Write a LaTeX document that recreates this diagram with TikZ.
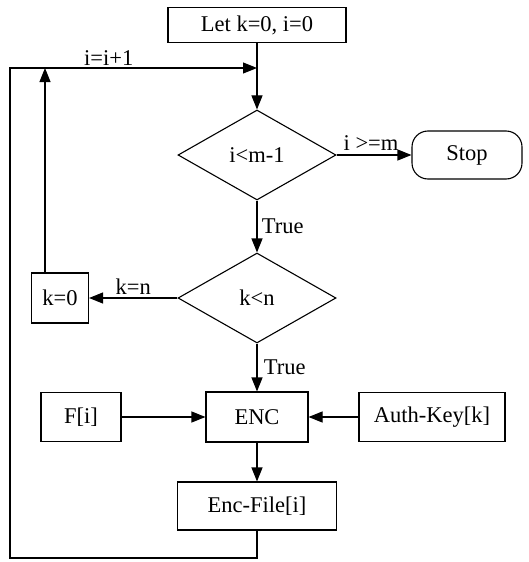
\documentclass[tikz,border=0pt]{standalone}
\usepackage{fontspec}
\setmainfont{Liberation Serif}
\usepackage{tikz}
\usetikzlibrary{arrows.meta,shapes.geometric}

\begin{document}
\begin{tikzpicture}[x=1pt,y=-1pt,line width=1.1pt,>={Triangle[length=14pt,width=11pt]},
  font=\rmfamily\fontsize{22.5}{26}\selectfont,
  box/.style={draw,inner sep=0pt,minimum width=#1,minimum height=49pt},
  test/.style={draw,diamond,inner sep=0pt,minimum width=158pt,minimum height=90pt,aspect=1.75}]
\useasboundingbox (0,0) rectangle (528,562);
\node[box=178pt,minimum height=35pt] (start) at (257,25) {Let k=0, i=0};
\node[test] (im) at (257,155) {i<m-1};
\node[draw,rounded corners=16pt,minimum width=110pt,minimum height=48pt,inner sep=0pt] (stop) at (467,155) {Stop};
\node[test] (kn) at (257,298) {k<n};
\node[box=57pt,minimum height=50pt] (kzero) at (60,298) {k=0};
\node[box=80pt] (fi) at (81,417) {F[i]};
\node[box=102pt,minimum height=50pt] (enc) at (257,417) {ENC};
\node[box=146pt] (auth) at (432,417) {Auth-Key[k]};
\node[box=159pt,minimum height=48pt] (encfile) at (257,506) {Enc-File[i]};
\coordinate (join) at (257,68);
\coordinate (kup) at (45,68);
\coordinate (tl) at (10,68);
\coordinate (bl) at (10,558);
\draw[->] (start) -- (im);
\draw[->] (im) -- (stop) node[midway,above=1pt,xshift=-3pt] {i >=m};
\draw[->] (im) -- (kn) node[midway,right=1pt] {True};
\draw[->] (kn) -- (kzero) node[midway,above=0pt] {k=n};
\draw[->] (kn) -- (enc) node[midway,right=3pt] {True};
\draw[->] (kzero.north -| kup) -- (kup);
\draw[->] (fi) -- (enc);
\draw[->] (auth) -- (enc);
\draw[->] (enc) -- (encfile);
\draw[->] (encfile) -- (encfile.south |- bl) -- (bl) -- (tl) -- (join) node[pos=0.4,above=-1pt] {i=i+1};
\end{tikzpicture}
\end{document}
